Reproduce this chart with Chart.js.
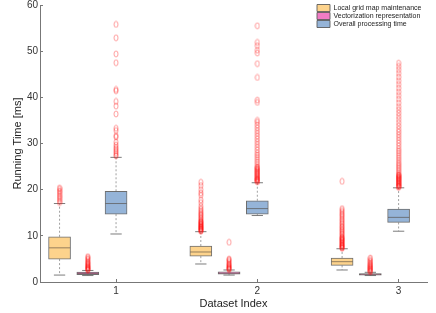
<!DOCTYPE html>
<html>
<head>
<meta charset="utf-8">
<script src="https://cdn.jsdelivr.net/npm/chart.js@4.4.1/dist/chart.umd.min.js"></script>
<style>
html,body{margin:0;padding:0;background:#fff;}
</style>
</head>
<body>
<canvas id="chart" width="436" height="313"></canvas>
<script>
/* ---------- DATA ---------- */
const datasetIdx = [1, 2, 3];
const seriesNames = ["Local grid map maintenance", "Vectorization representation", "Overall processing time"];
const seriesOffset = [-0.4, -0.2, 0];

// rows: series, columns: dataset index 1..3
const lowWhisk  = [[1.5, 3.9, 2.6], [1.4, 1.5, 1.4], [10.4, 14.4, 11.0]];
const q1        = [[4.96, 5.6, 3.6], [1.57, 1.7, 1.5], [14.7, 14.7, 12.9]];
const median    = [[7.4, 6.5, 4.4], [1.85, 1.9, 1.65], [17.0, 15.9, 14.0]];
const q3        = [[9.8, 7.8, 5.2], [2.16, 2.2, 1.85], [19.65, 17.6, 15.8]];
const highWhisk = [[17.0, 10.9, 7.2], [2.5, 2.6, 2.1], [27.0, 21.5, 20.4]];

const localOut = [
  [17.2, 17.5, 17.9, 18.3, 18.6, 19.0, 19.4, 19.7, 20.1, 20.4],
  [11.0, 11.1, 11.2, 11.4, 11.5, 11.6, 11.8, 11.9, 12.0, 12.2, 12.3, 12.5, 12.6, 12.8, 13.0, 13.1,
   13.3, 13.6, 13.9, 14.2, 14.5, 14.8, 15.1, 15.5, 15.9, 16.4, 17.2, 17.8, 18.8, 19.3, 20.0, 20.9, 21.6],
  [7.3, 7.4, 7.5, 7.7, 7.8, 8.0, 8.1, 8.3, 8.5, 8.6, 8.8, 9.0, 9.1, 9.3, 9.5, 9.6, 9.8, 10.1, 10.4,
   10.7, 11.0, 11.3, 11.6, 11.9, 12.2, 12.6, 12.9, 13.3, 13.6, 14.0, 14.4, 14.7, 15.1, 15.5, 15.9, 21.8]
];
const vectorOut = [
  [2.6, 2.7, 2.8, 3.0, 3.1, 3.3, 3.4, 3.6, 3.8, 4.0, 4.2, 4.4, 4.7, 5.0, 5.3, 5.5],
  [2.7, 2.8, 3.0, 3.1, 3.3, 3.5, 3.7, 3.9, 4.2, 4.5, 4.8, 5.0, 8.6],
  [2.2, 2.4, 2.5, 2.7, 2.9, 3.0, 3.2, 3.4, 3.6, 3.8, 4.0, 4.3, 4.6, 4.9, 5.2]
];
const overallOut = [
  [27.3, 27.6, 28.0, 28.4, 28.8, 29.2, 29.7, 30.3, 31.4, 31.7, 32.8, 33.3, 36.4, 38.1, 39.1, 41.4,
   41.7, 47.5, 49.4, 52.9, 55.8],
  [21.7, 21.8, 22.0, 22.1, 22.3, 22.4, 22.6, 22.8, 23.0, 23.2, 23.4, 23.6, 23.8, 24.0, 24.2, 24.4,
   24.6, 24.8, 25.0, 25.5, 26.0, 26.5, 27.0, 27.5, 28.0, 28.6, 29.2, 29.8, 30.4, 31.0, 31.6, 32.2,
   32.8, 33.4, 34.0, 34.6, 35.0, 38.9, 39.4, 44.3, 47.3, 49.6, 50.2, 51.2, 51.9, 55.5],
  [20.5, 20.6, 20.8, 20.9, 21.1, 21.2, 21.4, 21.5, 21.7, 21.9, 22.0, 22.2, 22.3, 22.5, 22.6, 22.8,
   22.9, 23.1, 23.2, 23.5, 23.9, 24.3, 24.7, 25.1, 25.5, 25.9, 26.4, 26.9, 27.4, 27.9, 28.4, 28.9,
   29.5, 30.1, 30.7, 31.3, 31.9, 32.5, 33.1, 33.8, 34.5, 35.2, 35.9, 36.6, 37.3, 38.0, 38.8, 39.6,
   40.4, 41.2, 42.0, 42.8, 43.6, 44.4, 45.2, 46.0, 46.7, 47.4]
];
const outliers = [localOut, vectorOut, overallOut];

const xTicks = [1, 2, 3];
const yTicks = [0, 10, 20, 30, 40, 50, 60];

/* ---------- STYLE ---------- */
const fills = ["#FDD38C", "#F07CC4", "#95B4D8"];
const edge = "rgba(85,85,85,0.85)";
const capHalf = 0.04;
const medHalf = 0.075;

Chart.defaults.font.family = "'Liberation Sans', Arial, sans-serif";
Chart.defaults.color = "#333";

function ringMarker(){
  const c = document.createElement("canvas");
  c.width = 6; c.height = 8;
  const g = c.getContext("2d");
  g.strokeStyle = "rgba(255,0,0,0.42)";
  g.lineWidth = 0.9;
  g.beginPath();
  g.ellipse(3, 4, 2.0, 3.0, 0, 0, Math.PI*2);
  g.stroke();
  return c;
}

/* ---------- BUILD ---------- */
const pos = (s,i) => datasetIdx[i] + seriesOffset[s];

const boxSets = seriesNames.map((name,s)=>({
  type:"bar",
  label:name,
  data:datasetIdx.map((d,i)=>({x:pos(s,i), y:[q1[s][i], q3[s][i]]})),
  backgroundColor:fills[s],
  borderColor:edge,
  borderWidth:1,
  borderSkipped:false,
  grouped:false,
  maxBarThickness:22,
  barPercentage:1,
  categoryPercentage:1,
  order:2
}));

const whisk = [], caps = [], meds = [], outs = [];
seriesNames.forEach((n,s)=>{
  datasetIdx.forEach((d,i)=>{
    const x = pos(s,i);
    whisk.push({x,y:q3[s][i]},{x,y:highWhisk[s][i]},{x,y:null},
               {x,y:q1[s][i]},{x,y:lowWhisk[s][i]},{x,y:null});
    caps.push({x:x-capHalf,y:highWhisk[s][i]},{x:x+capHalf,y:highWhisk[s][i]},{x,y:null},
              {x:x-capHalf,y:lowWhisk[s][i]},{x:x+capHalf,y:lowWhisk[s][i]},{x,y:null});
    meds.push({x:x-medHalf,y:median[s][i]},{x:x+medHalf,y:median[s][i]},{x,y:null});
    outliers[s][i].forEach(v=>outs.push({x,y:v}));
  });
});

const lineSet = (data,color,dash,order) => ({
  type:"line", data, borderColor:color, borderWidth:1, borderDash:dash,
  pointRadius:0, spanGaps:false, fill:false, order
});

// put the legend in the top right corner of the plot
const legendPlace = {
  id:"legendPlace",
  afterLayout(chart){
    const lg = chart.legend;
    const w = lg.width, h = lg.height;
    lg.left = 316; lg.right = 316 + w;
    lg.top = 3.5; lg.bottom = 3.5 + h;
  }
};

/* ---------- CHART ---------- */
new Chart(document.getElementById("chart"),{
  type:"bar",
  data:{
    datasets:[
      ...boxSets,
      lineSet(whisk, "rgba(130,130,130,0.75)", [2,2], 4),
      lineSet(caps, "rgba(110,110,110,0.9)", [], 3),
      lineSet(meds, "rgba(80,70,60,0.6)", [], 1),
      {type:"scatter", data:outs, pointStyle:ringMarker(), pointRadius:3, order:0}
    ]
  },
  options:{
    responsive:false,
    animation:false,
    layout:{padding:{top:4, right:9, bottom:0, left:0}},
    plugins:{
      tooltip:{enabled:false},
      legend:{
        position:"chartArea",
        align:"start",
        labels:{
          filter:item=>item.datasetIndex < 3,
          boxWidth:13, boxHeight:7, padding:1,
          font:{size:7}, color:"#222"
        }
      }
    },
    scales:{
      x:{
        type:"linear", min:0.4616, max:3.201, offset:false,
        afterBuildTicks:s=>{ s.ticks = xTicks.map(v=>({value:v})); },
        afterFit:s=>{ s.height = 31; s.paddingLeft = 0; s.paddingRight = 0; },
        ticks:{padding:6, font:{size:10}, color:"#333"},
        grid:{drawOnChartArea:false, offset:false, tickLength:-3, color:"#777"},
        border:{color:"#777"},
        title:{display:true, text:"Dataset Index", font:{size:11}, color:"#222", padding:{top:0, bottom:2.5}}
      },
      y:{
        min:0, max:60,
        afterBuildTicks:s=>{ s.ticks = yTicks.map(v=>({value:v})); },
        afterFit:s=>{ s.width = 40; s.paddingTop = 0; s.paddingBottom = 0; },
        ticks:{padding:5, font:{size:10}, color:"#333"},
        grid:{drawOnChartArea:false, tickLength:-3, color:"#777"},
        border:{color:"#777"},
        title:{display:true, text:"Running Time [ms]", font:{size:11}, color:"#222", padding:{top:11, bottom:0}}
      }
    }
  },
  plugins:[legendPlace]
});
</script>
</body>
</html>
